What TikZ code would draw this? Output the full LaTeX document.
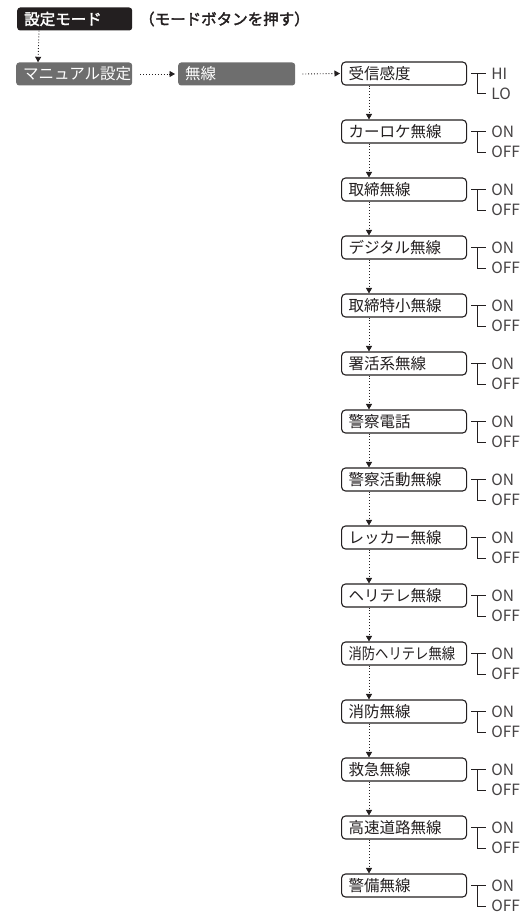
\documentclass[tikz,border=0pt]{standalone}
\usepackage{graphicx}
\usepackage{fontspec}
\setmainfont{Noto Sans CJK JP}[AutoFakeBold=2]
\usetikzlibrary{arrows.meta}
\definecolor{ink}{HTML}{231F20}
\definecolor{midgray}{HTML}{6E6E6E}
\begin{document}
\begin{tikzpicture}[x=1pt,y=-1pt,
  arr/.style={draw=ink, dotted, line width=0.9pt, -{Triangle[length=5.5pt,width=6pt]}},
  wbox/.style={draw=ink, line width=1.1pt, rounded corners=4pt, fill=white,
    minimum height=23pt, text width=111pt, inner xsep=7pt, inner ysep=0pt,
    align=left, font=\fontsize{15.5}{16}\selectfont, text=ink, anchor=west},
  gbox/.style={fill=midgray, rounded corners=3pt, minimum height=23pt,
    inner xsep=7pt, inner ysep=0pt, align=left, font=\fontsize{15.5}{16}\selectfont,
    text=white, anchor=west},
  kbox/.style={fill=ink, rounded corners=3pt, minimum height=23pt,
    inner xsep=7pt, inner ysep=0pt, align=left, font=\fontsize{15.5}{16}\selectfont\bfseries,
    text=white, anchor=west},
  lbl/.style={font=\fontsize{15.5}{16}\selectfont, text=ink!85, inner sep=0pt, anchor=west},
  brk/.style={draw=ink, line width=1pt}
]
\useasboundingbox (0,0) rectangle (525,915);

% top
\node[kbox, text width=101pt] (mode) at (17,19) {設定モード};
\node[font=\fontsize{15.5}{16}\selectfont\bfseries, text=ink, inner sep=0pt, anchor=west] (press) at (139,19) {（モードボタンを押す）};

\node[gbox, text width=102pt] (manual) at (16,74) {マニュアル設定};
\node[gbox, text width=103pt] (musen) at (178,74) {無線};

\draw[arr] ([xshift=22pt]mode.south west) -- ([xshift=22pt]manual.north west);
\draw[arr] ([xshift=8pt]manual.east) -- ([xshift=-3pt]musen.west);

% list
\foreach \i/\t/\a/\b in {
  1/受信感度/HI/LO,
  2/カーロケ無線/ON/OFF,
  3/取締無線/ON/OFF,
  4/デジタル無線/ON/OFF,
  5/取締特小無線/ON/OFF,
  6/署活系無線/ON/OFF,
  7/警察電話/ON/OFF,
  8/警察活動無線/ON/OFF,
  9/レッカー無線/ON/OFF,
  10/ヘリテレ無線/ON/OFF,
  11/{\scalebox{0.86}[1]{消防ヘリテレ無線}}/ON/OFF,
  12/消防無線/ON/OFF,
  13/救急無線/ON/OFF,
  14/高速道路無線/ON/OFF,
  15/警備無線/ON/OFF}{
  \node[wbox] (b\i) at (341,{73.5+58*(\i-1)}) {\t};
  \node[lbl] (u\i) at ([xshift=24pt]b\i.east) {\a};
  \node[lbl] (d\i) at ([xshift=24pt,yshift=-20.5pt]b\i.east) {\b};
  \draw[brk] ([xshift=4pt]b\i.east) -- ([xshift=-5pt]u\i.west);
  \draw[brk] ([xshift=10pt]b\i.east) |- ([xshift=-5pt]d\i.west);
}

\draw[arr] ([xshift=7pt]musen.east) -- ([xshift=-1pt]b1.west);
\foreach \i [evaluate=\i as \j using int(\i+1)] in {1,...,14}{
  \draw[arr] ([xshift=28pt]b\i.south west) -- ([xshift=28pt]b\j.north west);
}
\end{tikzpicture}
\end{document}
